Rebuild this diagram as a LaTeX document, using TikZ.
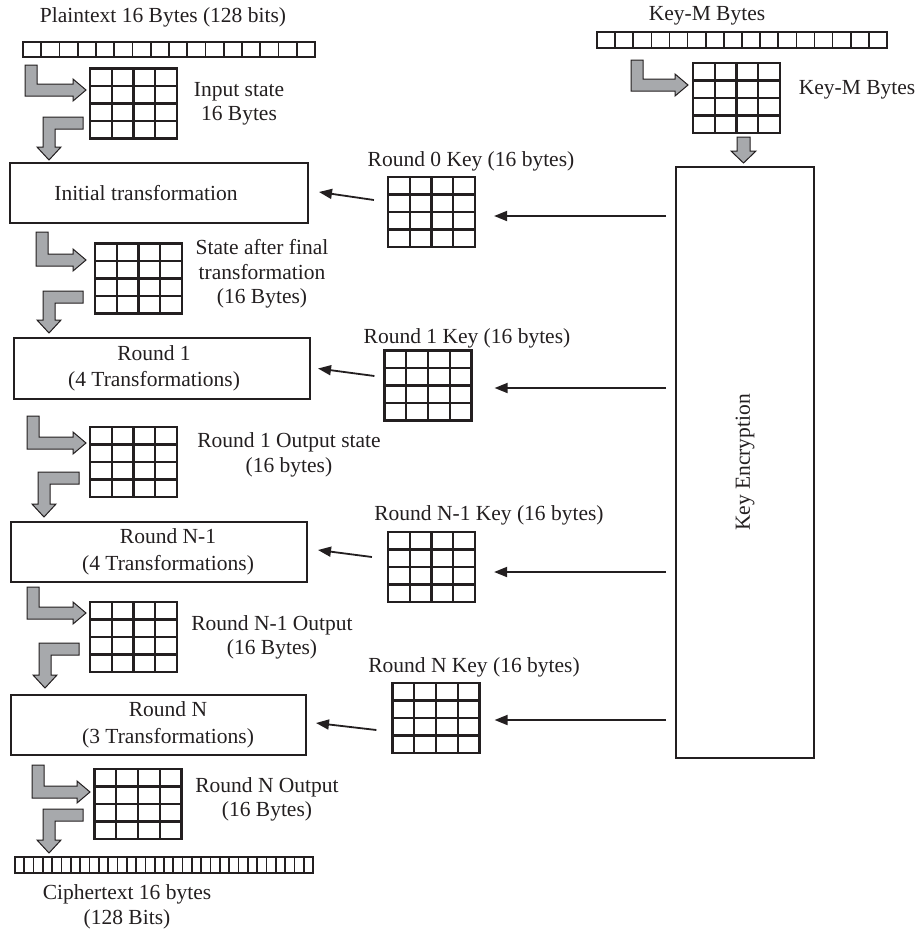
\documentclass[tikz,border=0pt]{standalone}
\usepackage{fontspec}
\setmainfont{Liberation Serif}
\usetikzlibrary{arrows.meta,calc}
\definecolor{ink}{HTML}{231F20}
\definecolor{arrowgray}{HTML}{A7A9AC}
\newcommand\grayRL[4]{% a, top, yc, tip
  \draw[garrow] (#1,#2) -- ({#1+12},#2) -- ({#1+12},{#3-6}) -- ({#4-13},{#3-6}) -- ({#4-13},{#3-11}) -- (#4,#3) -- ({#4-13},{#3+11}) -- ({#4-13},{#3+6}) -- (#1,{#3+6}) -- cycle;}
\newcommand\grayDL[4]{% b, top, xr, tipy
  \draw[garrow] (#3,#2) -- (#1,#2) -- (#1,{#4-13}) -- ({#1-6},{#4-13}) -- ({#1+6},#4) -- ({#1+18},{#4-13}) -- ({#1+12},{#4-13}) -- ({#1+12},{#2+12}) -- (#3,{#2+12}) -- cycle;}
\begin{document}
\begin{tikzpicture}[x=1pt,y=-1pt,
  every node/.style={font=\fontsize{21.5}{24.5}\selectfont, text=ink},
  garrow/.style={fill=arrowgray, draw=ink, line width=1pt, line join=miter},
  arr/.style={draw=ink, line width=1.8pt, -{Triangle[length=13pt,width=10pt]}},
  bytegrid/.style={draw=ink, line width=2.2pt, minimum width=87pt, minimum height=70pt, inner sep=0pt,
    path picture={
      \foreach \i in {1,2,3}{
        \draw[ink, line width=2.1pt] ($(path picture bounding box.north west)!\i/4!(path picture bounding box.north east)$) -- ($(path picture bounding box.south west)!\i/4!(path picture bounding box.south east)$);
        \draw[ink, line width=2.1pt] ($(path picture bounding box.north west)!\i/4!(path picture bounding box.south west)$) -- ($(path picture bounding box.north east)!\i/4!(path picture bounding box.south east)$);
      }}},
  strip/.style={draw=ink, line width=1.8pt, inner sep=0pt,
    path picture={
      \foreach \i in {1,...,#1}{
        \draw[ink, line width=1.7pt] ($(path picture bounding box.north west)!{\i/(#1+1)}!(path picture bounding box.north east)$) -- ($(path picture bounding box.south west)!{\i/(#1+1)}!(path picture bounding box.south east)$);
      }}},
  stagebox/.style={draw=ink, line width=2pt, inner sep=0pt},
  lbl/.style={align=center, inner sep=0pt},
  boxtext/.style={align=center, inner sep=0pt, font=\fontsize{21.5}{26.5}\selectfont}
]
\useasboundingbox (0,0) rectangle (914,930);

% byte strips
\node[strip=15, minimum width=292pt, minimum height=15pt] (plain) at (169,49.5) {};
\node[strip=15, minimum width=290pt, minimum height=16pt] (keym) at (742,40) {};
\node[strip=31, minimum width=298pt, minimum height=16pt] (cipher) at (164,865) {};

% state grids
\node[bytegrid] (G1) at (133.5,103.5) {};
\node[bytegrid] (G2) at (138.5,278.5) {};
\node[bytegrid] (G3) at (133.5,462) {};
\node[bytegrid] (G4) at (133.5,637) {};
\node[bytegrid] (G5) at (138,804) {};
\node[bytegrid] (KG) at (736.5,98) {};
% key grids
\node[bytegrid] (K0) at (431.5,212) {};
\node[bytegrid] (K1) at (428,385.5) {};
\node[bytegrid] (K2) at (431.5,567) {};
\node[bytegrid] (K3) at (436,718) {};

% stage boxes
\node[stagebox, minimum width=298pt, minimum height=60pt] (B0) at (159,193) {};
\node[stagebox, minimum width=296pt, minimum height=61pt] (B1) at (162,368.5) {};
\node[stagebox, minimum width=296pt, minimum height=60pt] (B2) at (159,552) {};
\node[stagebox, minimum width=295pt, minimum height=60pt] (B3) at (158.5,725) {};
\node[stagebox, minimum width=138pt, minimum height=591pt] (kbox) at (745,462.5) {};
\node[boxtext] (t0) at ([xshift=-13pt]B0.center) {Initial transformation};
\node[boxtext] (t1) at ([xshift=-8pt]B1.center) {Round 1\\(4 Transformations)};
\node[boxtext] (t2) at ([xshift=9pt]B2.center) {Round N-1\\(4 Transformations)};
\node[boxtext] (t3) at ([xshift=9.5pt]B3.center) {Round N\\(3 Transformations)};
\node[lbl, rotate=90] (kenc) at (kbox.center) {Key Encryption};

% labels
\node[lbl] (lplain) at (163,17) {Plaintext 16 Bytes (128 bits)};
\node[lbl] (lkeym) at (707,16) {Key-M Bytes};
\node[lbl] (lin) at (239,104) {Input state\\16 Bytes};
\node[lbl] (lkg) at (857,90) {Key-M Bytes};
\node[lbl] (ls1) at (262,274) {State after final\\transformation\\(16 Bytes)};
\node[lbl] (ls2) at (289,455) {Round 1 Output state\\(16 bytes)};
\node[lbl] (ls3) at (272,637.5) {Round N-1 Output\\(16 Bytes)};
\node[lbl] (ls4) at (267,799.5) {Round N Output\\(16 Bytes)};
\node[lbl] (lc) at (127,907) {Ciphertext 16 bytes\\(128 Bits)};
\node[lbl] (lk0) at (471,161) {Round 0 Key (16 bytes)};
\node[lbl] (lk1) at (467,338) {Round 1 Key (16 bytes)};
\node[lbl] (lk2) at (489,515) {Round N-1 Key (16 bytes)};
\node[lbl] (lk3) at (474,667) {Round N Key (16 bytes)};

% gray L arrows
\grayRL{25}{65}{90}{86}
\grayDL{43}{117}{83}{160}
\grayRL{36}{232}{260}{86}
\grayDL{43}{291}{83}{333}
\grayRL{27}{416}{443}{86}
\grayDL{38}{472}{79}{517}
\grayRL{27}{587}{613}{86}
\grayDL{39}{643}{79}{688}
\grayRL{32}{765}{792}{90}
\grayDL{43}{809}{83}{853}
\grayRL{631}{60}{85}{688}
\draw[garrow] (737,137) -- (750,137) -- (750,151) -- (756,151) -- (743.5,163) -- (731,151) -- (737,151) -- cycle;

% key arrows
\coordinate (r0) at (0,216);
\coordinate (r1) at (0,388);
\coordinate (r2) at (0,572);
\coordinate (r3) at (0,720);
\draw[arr, shorten <=9pt, shorten >=18pt] (kbox.west |- r0) -- (K0.east |- r0);
\draw[arr, shorten <=9pt, shorten >=22pt] (kbox.west |- r1) -- (K1.east |- r1);
\draw[arr, shorten <=9pt, shorten >=18pt] (kbox.west |- r2) -- (K2.east |- r2);
\draw[arr, shorten <=9pt, shorten >=14pt] (kbox.west |- r3) -- (K3.east |- r3);

\draw[arr] ([xshift=-13pt,yshift=12pt]K0.west) -- ([xshift=10pt,yshift=1pt]B0.east);
\draw[arr] ([xshift=-9pt,yshift=9.5pt]K1.west) -- ([xshift=7pt]B1.east);
\draw[arr] ([xshift=-15pt,yshift=10pt]K2.west) -- ([xshift=10pt,yshift=2pt]B2.east);
\draw[arr] ([xshift=-15pt,yshift=-12pt]K3.west) -- ([xshift=9pt,yshift=2pt]B3.east);
\end{tikzpicture}
\end{document}
